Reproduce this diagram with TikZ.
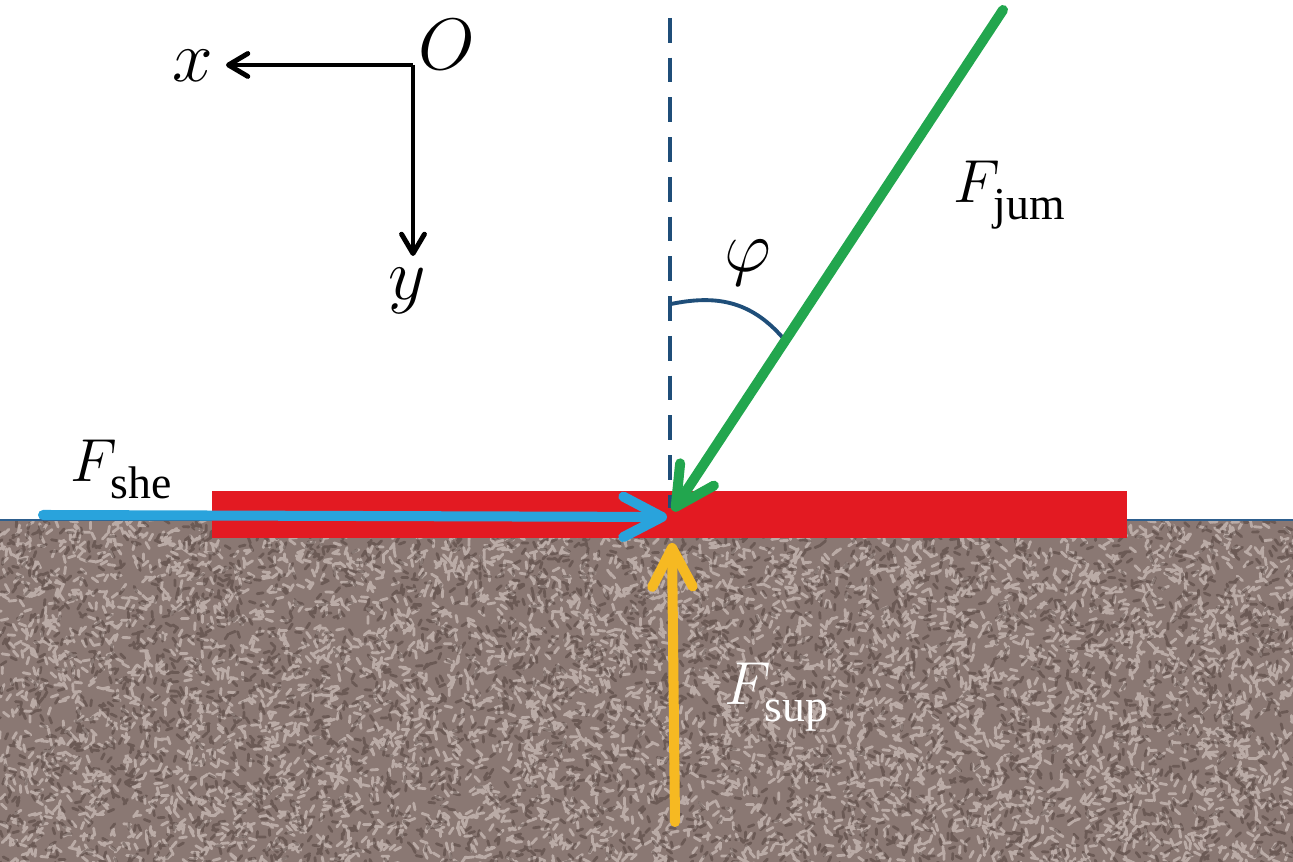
\documentclass[tikz,border=0pt]{standalone}
\usepackage{fontspec}
\setmainfont{Liberation Serif}
\usetikzlibrary{arrows.meta}
\definecolor{groundc}{HTML}{8A7873}
\definecolor{groundlight}{HTML}{E2D5D0}
\definecolor{grounddark}{HTML}{3E2E2A}
\definecolor{edgeblue}{HTML}{2E5F8E}
\definecolor{barred}{HTML}{E31A22}
\definecolor{shecol}{HTML}{29A3DC}
\definecolor{jumcol}{HTML}{22A64E}
\definecolor{supcol}{HTML}{F6B922}
\definecolor{dashcol}{HTML}{1F4E79}
\tikzset{
  force/.style={line width=2.85pt, line cap=round, -{Straight Barb[length=11pt,width=11.5pt,round]}},
  axis/.style={line width=1.4pt, -{Straight Barb[length=5.5pt,width=6.5pt,round]}},
  lbl/.style={inner sep=0pt, anchor=base west, font=\fontsize{20}{24}\selectfont},
  grain/.style={line width=0.8pt, line cap=round},
}
\newcommand{\forcelabel}[2]{{\fontsize{19}{22}\selectfont$F$}\kern-2pt\raisebox{-0.5ex}{\fontsize{13}{15}\selectfont #2}}
\begin{document}
\begin{tikzpicture}[x=0.01cm,y=-0.01cm]
\useasboundingbox (0,0) rectangle (1293,862);
% ground
\fill[groundc] (0,520) rectangle (1293,862);
\begin{scope}
\clip (0,521) rectangle (1293,862);
\pgfmathsetseed{7}
\path[draw=groundlight, grain, draw opacity=0.55] \foreach \i in {1,...,5500}{ (rnd*1300, 518+rnd*348) -- ++(rnd*180:7) };
\path[draw=grounddark, grain, draw opacity=0.4] \foreach \i in {1,...,4000}{ (rnd*1300, 518+rnd*348) -- ++(rnd*180:6) };
\end{scope}
\draw[edgeblue, line width=0.8pt] (0,520) -- (1293,520);
% red bar
\fill[barred] (212,491) rectangle (1127,538);
% dashed vertical reference
\coordinate (dtop) at (670,18);
\coordinate (dbot) at (670,508);
\draw[dashcol, line width=1pt, dash pattern=on 7pt off 4.3pt] (dtop) -- (dbot);
% angle arc
\coordinate (arcA) at (671,304);
\coordinate (arcB) at (783,338);
\draw[dashcol, line width=1.1pt, line cap=round] (arcA) .. controls (715,295) and (750,300) .. (arcB);
% forces
\coordinate (jumS) at (1003,10);
\coordinate (jumE) at (673,511);
\coordinate (sheS) at (43,515);
\coordinate (sheE) at (667,517);
\coordinate (supS) at (675,822);
\coordinate (supE) at (672,543);
\draw[force, supcol] (supS) -- (supE);
\draw[force, shecol] (sheS) -- (sheE);
\draw[force, jumcol] (jumS) -- (jumE);
% axes
\coordinate (O) at (413,65);
\coordinate (xe) at (226,65);
\coordinate (ye) at (413,256);
\draw[axis] (O) -- (xe);
\draw[axis] (O) -- (ye);
% labels
\node[lbl] (lx) at (172,82) {$x$};
\node[lbl] (lO) at (418,70) {$O$};
\node[lbl] (ly) at (388,300) {$y$};
\node[lbl] (lphi) at (724,272) {$\varphi$};
\node[lbl] (ljum) at (953,203) {\forcelabel{F}{jum}};
\node[lbl] (lshe) at (70,482) {\forcelabel{F}{she}};
\node[lbl, text=white] (lsup) at (724,705) {\forcelabel{F}{sup}};
\end{tikzpicture}
\end{document}
